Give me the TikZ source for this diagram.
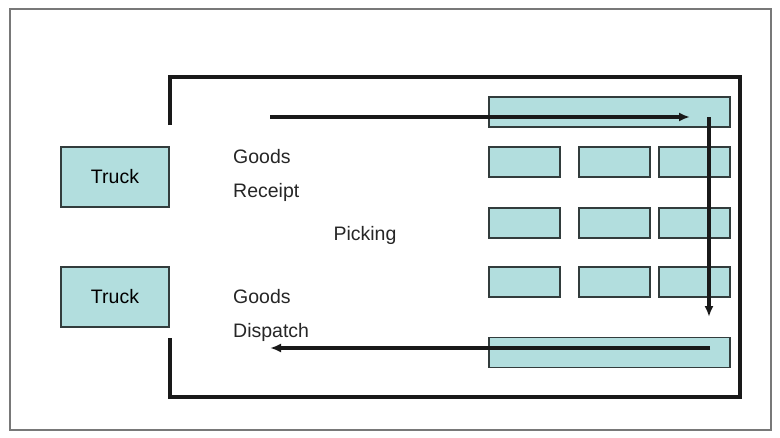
\documentclass[tikz,border=0pt]{standalone}
\usepackage{fontspec}
\setmainfont{Liberation Sans}
\usetikzlibrary{arrows.meta}
\definecolor{rackfill}{RGB}{178,222,222}
\definecolor{rackline}{RGB}{50,60,60}
\definecolor{framegray}{RGB}{120,120,120}
\tikzset{
  box/.style={draw=rackline, line width=1.4pt, fill=rackfill, inner sep=0pt},
  rack/.style={box, minimum width=71pt, minimum height=30pt},
  longrack/.style={box, minimum width=241pt, minimum height=30pt},
  truck/.style={box, minimum width=108pt, minimum height=60pt, font=\fontsize{19.5}{22}\selectfont},
  label/.style={anchor=west, inner sep=0pt, font=\fontsize{19.5}{22}\selectfont, text=black!85},
  wall/.style={line width=3.2pt, black!90},
  flow/.style={line width=3.4pt, black!90, -{Latex[length=11pt,width=9pt]}}
}
\begin{document}
\begin{tikzpicture}[x=1pt,y=-1pt]
  \useasboundingbox (0,0) rectangle (780,437);
  \fill[white] (0,0) rectangle (780,437);
  % outer frame
  \draw[framegray, line width=1.2pt] (10,9) rectangle (771,430);

  % building walls with the two dock openings on the left
  \draw[wall] (170,125) -- (170,77) -- (740,77) -- (740,397) -- (170,397) -- (170,338);

  % storage racks
  \node[longrack] (top) at (609.5,112) {};
  \node[rack] (r11) at (524.5,162) {};
  \node[rack] (r12) at (614.5,162) {};
  \node[rack] (r13) at (694.5,162) {};
  \node[rack] (r21) at (524.5,223) {};
  \node[rack] (r22) at (614.5,223) {};
  \node[rack] (r23) at (694.5,223) {};
  \node[rack] (r31) at (524.5,282) {};
  \node[rack] (r32) at (614.5,282) {};
  \node[rack] (r33) at (694.5,282) {};
  \node[longrack] (bot) at (609.5,352.5) {};

  % trucks at the docks
  \node[truck] (truck1) at (115,177) {Truck};
  \node[truck] (truck2) at (115,297) {Truck};

  % area labels
  \node[label] (gr1) at (233,157) {Goods};
  \node[label] (gr2) at (233,192) {Receipt};
  \node[anchor=center, inner sep=0pt, font=\fontsize{19.5}{22}\selectfont, text=black!85] (pick) at (365,235) {Picking};
  \node[label] (gd1) at (233,297) {Goods};
  \node[label] (gd2) at (233,332) {Dispatch};

  % material flow
  \coordinate (inStart) at (270,117);
  \coordinate (inEnd) at (690,117);
  \coordinate (downStart) at (709,117);
  \coordinate (downEnd) at (709,317);
  \coordinate (outStart) at (710,348);
  \coordinate (outEnd) at (270,348);
  \draw[flow] (inStart) -- (inEnd);
  \draw[flow] (downStart) -- (downEnd);
  \draw[flow] (outStart) -- (outEnd);
\end{tikzpicture}
\end{document}
